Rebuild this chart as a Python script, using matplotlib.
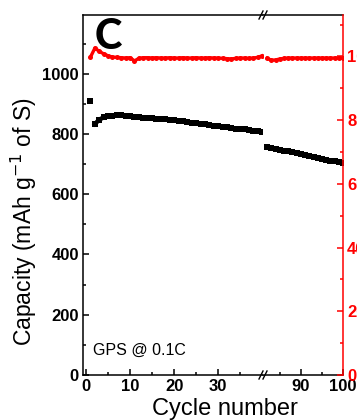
import matplotlib
matplotlib.use("Agg")
import matplotlib.pyplot as plt
from matplotlib.lines import Line2D
from matplotlib.ticker import MultipleLocator, FixedLocator

plt.rcParams['font.family'] = ['Liberation Sans', 'DejaVu Sans']

# cycles before / after the axis break
cycles_a = list(range(1, 41))
cycles_b = list(range(82, 101))

# discharge capacity (mAh g-1 of S)
cap_a = [910, 833, 848, 855, 859, 861, 862, 862, 861, 860,
         858, 855, 853, 852, 852, 851, 850, 849, 848, 846,
         844, 842, 840, 838, 836, 834, 832, 830, 828, 826,
         824, 822, 820, 818, 816, 815, 813, 811, 809, 807]
cap_b = [757, 754, 751, 748, 745, 742, 739, 736, 733, 730,
         727, 724, 721, 718, 715, 712, 709, 706, 703]

# coulombic efficiency (%)
ce_a = [99.8, 102.6, 101.6, 100.8, 100.2, 99.8, 99.7, 99.6, 99.5, 99.6,
        98.6, 99.4, 99.6, 99.6, 99.5, 99.6, 99.5, 99.5, 99.6, 99.5,
        99.5, 99.6, 99.5, 99.5, 99.6, 99.5, 99.5, 99.6, 99.5, 99.5,
        99.4, 99.3, 99.2, 99.4, 99.5, 99.5, 99.4, 99.5, 99.7, 100.2]
ce_b = [99.4, 98.8, 98.9, 99.2, 99.4, 99.5, 99.5, 99.5, 99.5, 99.5,
        99.5, 99.5, 99.5, 99.5, 99.5, 99.5, 99.5, 99.5, 99.5]

W, H = 357, 420
fig = plt.figure(figsize=(W / 100, H / 100), dpi=100)
bot = 1 - 375 / H
hgt = 360 / H
ax1 = fig.add_axes([83 / W, bot, 180 / W, hgt])
ax2 = fig.add_axes([263 / W, bot, 80 / W, hgt])
ax1r = ax1.twinx()
ax2r = ax2.twinx()

red = '#ff0000'
lw = 1.1

# first cycle stands apart from the rest
ax1.plot(cycles_a[:1], cap_a[:1], 's', color='black', ms=4.5, mew=0)
ax1.plot(cycles_a[1:], cap_a[1:], '-s', color='black', lw=3.2, ms=4, mew=0)
ax2.plot(cycles_b, cap_b, '-s', color='black', lw=3.2, ms=4, mew=0)
ax1r.plot(cycles_a, ce_a, '-o', color=red, lw=2.4, ms=3.6, mew=0)
ax2r.plot(cycles_b, ce_b, '-o', color=red, lw=2.4, ms=3.6, mew=0)

for ax in (ax1, ax2):
    ax.set_ylim(0, 1195)
for ax in (ax1r, ax2r):
    ax.set_ylim(0, 113)
ax1.set_xlim(-0.7, 40.2)
ax2.set_xlim(81, 100)

# spines
for ax in (ax1, ax2, ax1r, ax2r):
    for s in ax.spines.values():
        s.set_linewidth(lw)
for s in ax1r.spines.values():
    s.set_visible(False)
ax1.spines['right'].set_visible(False)
ax2.spines['left'].set_visible(False)
ax2.spines['right'].set_visible(False)
for k in ('left', 'top', 'bottom'):
    ax2r.spines[k].set_visible(False)
ax2r.spines['right'].set_color(red)

ax1.set_yticks(range(0, 1001, 200))
ax1.yaxis.set_minor_locator(MultipleLocator(100))
ax1.set_xticks([0, 10, 20, 30])
ax1.xaxis.set_minor_locator(FixedLocator([5, 15, 25, 35]))
ax2.set_xticks([90, 100])
ax2.xaxis.set_minor_locator(FixedLocator([85, 95]))
ax2.set_yticks([])
ax2.yaxis.set_minor_locator(plt.NullLocator())
ax1r.set_yticks([])
ax1r.yaxis.set_minor_locator(plt.NullLocator())
ax2r.set_yticks(range(0, 101, 20))
ax2r.yaxis.set_minor_locator(MultipleLocator(10))

for ax in (ax1, ax2):
    ax.tick_params(which='both', direction='in', width=lw, top=False,
                   right=False, labelsize=12)
    ax.tick_params(which='major', length=4, pad=3)
    ax.tick_params(which='minor', length=2.5)
ax2r.tick_params(which='both', direction='in', width=lw, colors=red,
                 labelsize=12, pad=3)
ax2r.tick_params(which='major', length=4)
ax2r.tick_params(which='minor', length=2.5)

for ax in (ax1, ax2, ax2r):
    for t in ax.get_xticklabels() + ax.get_yticklabels():
        t.set_fontweight('bold')

# break marks on top and bottom spines
xb = 263
for yb in (15, 375):
    for dx in (-2, 2):
        fig.add_artist(Line2D([(xb + dx - 2) / W, (xb + dx + 2) / W],
                              [1 - (yb + 4) / H, 1 - (yb - 4) / H],
                              transform=fig.transFigure, color='black', lw=1))

fig.text(24 / W, 1 - 222 / H, 'Capacity (mAh g$^{-1}$ of S)', rotation=90,
         ha='center', va='center', fontsize=16.5)
fig.text(225 / W, 1 - 409 / H, 'Cycle number', ha='center', va='center',
         fontsize=17)
fig.text(108 / W, 1 - 37 / H, 'C', ha='center', va='center', fontsize=30,
         fontweight=900, family=['Lato', 'DejaVu Sans'])
fig.text(93 / W, 1 - 350 / H, 'GPS @ 0.1C', ha='left', va='center',
         fontsize=11.5)

fig.savefig('out.png', dpi=100)
